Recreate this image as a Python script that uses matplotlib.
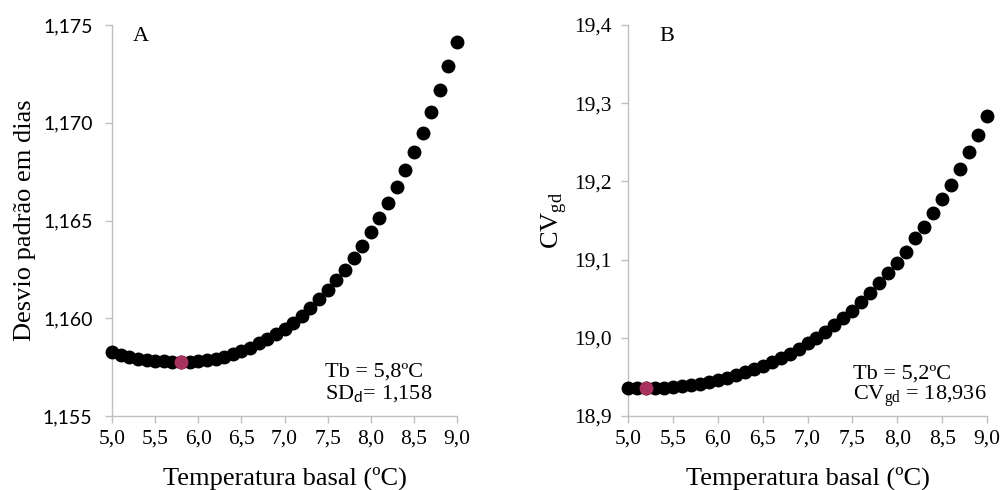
import numpy as np
import matplotlib
matplotlib.use("Agg")
import matplotlib.pyplot as plt

plt.rcParams["mathtext.fontset"] = "custom"
plt.rcParams["mathtext.rm"] = "Liberation Serif"
plt.rcParams["mathtext.sf"] = "Lato"

# Basal temperature candidates (ºC)
tb = [5.0, 5.1, 5.2, 5.3, 5.4, 5.5, 5.6, 5.7, 5.8, 5.9,
      6.0, 6.1, 6.2, 6.3, 6.4, 6.5, 6.6, 6.7, 6.8, 6.9,
      7.0, 7.1, 7.2, 7.3, 7.4, 7.5, 7.6, 7.7, 7.8, 7.9,
      8.0, 8.1, 8.2, 8.3, 8.4, 8.5, 8.6, 8.7, 8.8, 8.9, 9.0]

# A: standard deviation in days
sd_days = [1.15827, 1.15813, 1.15804, 1.15794, 1.15787, 1.15782, 1.15779, 1.15776, 1.15774, 1.15776,
           1.15779, 1.15784, 1.15794, 1.15804, 1.15816, 1.15832, 1.15849, 1.15871, 1.15893, 1.15918,
           1.15947, 1.15978, 1.16012, 1.16054, 1.16097, 1.16144, 1.16195, 1.16246, 1.16306, 1.16372,
           1.16442, 1.16512, 1.16590, 1.16670, 1.16757, 1.16852, 1.16950, 1.17056, 1.17170, 1.17289, 1.17415]

# B: coefficient of variation in growing degrees
cv_gd = [18.9362, 18.9358, 18.9356, 18.9360, 18.9362, 18.9371, 18.9380, 18.9392, 18.9413, 18.9435,
         18.9460, 18.9490, 18.9524, 18.9559, 18.9601, 18.9643, 18.9687, 18.9738, 18.9793, 18.9857,
         18.9930, 19.0001, 19.0078, 19.0164, 19.0249, 19.0347, 19.0462, 19.0569, 19.0697, 19.0825,
         19.0953, 19.1093, 19.1276, 19.1421, 19.1592, 19.1771, 19.1954, 19.2155, 19.2372, 19.2593, 19.2836]

best_a = 5.8
best_b = 5.2
sd_min = 1.15774
cv_min = 18.9356

x_ticks = [5.0, 5.5, 6.0, 6.5, 7.0, 7.5, 8.0, 8.5, 9.0]
a_ticks = [1.155, 1.160, 1.165, 1.170, 1.175]
b_ticks = [18.9, 19.0, 19.1, 19.2, 19.3, 19.4]

SERIF = "Liberation Serif"
SANS = "Lato"
GRID = "#BFBFBF"
DOT = "black"
HIGHLIGHT = "#A8325E"


def comma(v, nd):
    return f"{v:.{nd}f}".replace(".", ",")


fig = plt.figure(figsize=(10.01, 4.90), dpi=100)
axA = fig.add_axes([112 / 1001, 74 / 490, 345 / 1001, 391 / 490])
axB = fig.add_axes([628 / 1001, 74 / 490, 359 / 1001, 391 / 490])


def style(ax, yticks, ylim, ynd, yfont, ysize, ypad):
    ax.set_xlim(5.0, 9.0)
    ax.set_ylim(*ylim)
    for s in ("top", "right"):
        ax.spines[s].set_visible(False)
    for s in ("left", "bottom"):
        ax.spines[s].set_color(GRID)
        ax.spines[s].set_linewidth(1.0)
    ax.set_xticks(x_ticks)
    ax.set_xticklabels([comma(v, 1) for v in x_ticks], fontfamily=SERIF, fontsize=15.5)
    ax.set_yticks(yticks)
    ax.set_yticklabels([comma(v, ynd) for v in yticks], fontfamily=yfont, fontsize=ysize)
    ax.tick_params(axis="x", length=5, width=1.0, color=GRID, pad=5)
    ax.tick_params(axis="y", length=5, width=1.0, color=GRID, pad=ypad)
    ax.set_xlabel("Temperatura basal (ºC)", fontfamily=SERIF, fontsize=19)
    ax.xaxis.set_label_coords(0.5, -0.13)
    ax.xaxis.label.set_verticalalignment("top")


# Panel A
style(axA, a_ticks, (1.155, 1.175), 3, SANS, 14, 9)
axA.plot(tb, sd_days, "o", color=DOT, markersize=9, clip_on=False, zorder=3)
axA.plot([best_a], [sd_min], "o", color=HIGHLIGHT, markersize=9, clip_on=False, zorder=4)
axA.set_ylabel("Desvio padrão em dias", fontfamily=SERIF, fontsize=19)
axA.yaxis.set_label_coords(-0.22, 0.5)
axA.text(0.06, 0.996, "A", transform=axA.transAxes, fontfamily=SERIF, fontsize=16,
         ha="left", va="top")
axA.text(0.617, 0.100, "Tb = " + comma(best_a, 1) + "ºC", transform=axA.transAxes,
         fontfamily=SERIF, fontsize=16, ha="left", va="baseline")
axA.text(0.617, 0.043, "SD$_{\\mathsf{d}}$= " + comma(sd_min, 3), transform=axA.transAxes,
         fontfamily=SERIF, fontsize=16, ha="left", va="baseline")

# Panel B
style(axB, b_ticks, (18.9, 19.4), 1, SERIF, 15.5, 7)
axB.plot(tb, cv_gd, "o", color=DOT, markersize=9, clip_on=False, zorder=3)
axB.plot([best_b], [cv_min], "o", color=HIGHLIGHT, markersize=9, clip_on=False, zorder=4)
axB.set_ylabel("CV$_{\\mathrm{gd}}$", fontfamily=SERIF, fontsize=19)
axB.yaxis.set_label_coords(-0.165, 0.5)
axB.text(0.088, 0.996, "B", transform=axB.transAxes, fontfamily=SERIF, fontsize=16,
         ha="left", va="top")
axB.text(0.627, 0.095, "Tb = " + comma(best_b, 1) + "ºC", transform=axB.transAxes,
         fontfamily=SERIF, fontsize=16, ha="left", va="baseline")
axB.text(0.627, 0.040, "CV$_{\\mathrm{gd}}$ = " + comma(cv_min, 3), transform=axB.transAxes,
         fontfamily=SERIF, fontsize=16, ha="left", va="baseline")

fig.savefig("out.png", dpi=100)
